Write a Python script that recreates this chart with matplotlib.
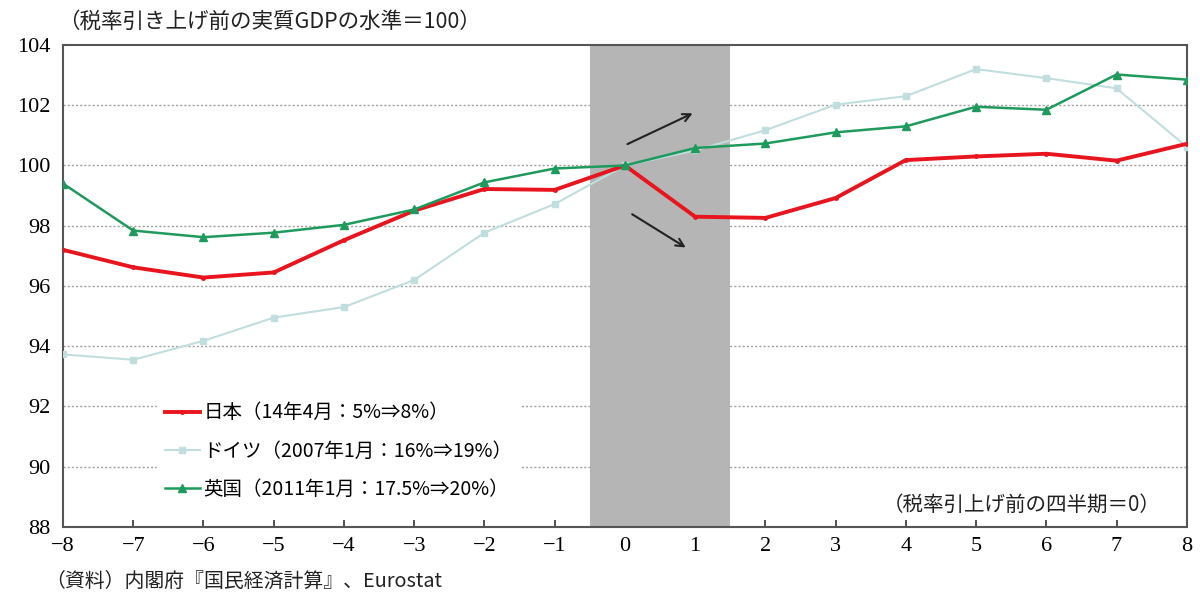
import matplotlib
matplotlib.use("Agg")
import matplotlib.pyplot as plt

plt.rcParams['font.family'] = ['Noto Sans CJK JP', 'DejaVu Sans']

quarters = list(range(-8, 9))
japan = [97.2, 96.62, 96.28, 96.45, 97.52, 98.5, 99.22, 99.19, 100.0,
         98.3, 98.26, 98.92, 100.18, 100.3, 100.39, 100.16, 100.72]
germany = [93.73, 93.55, 94.18, 94.95, 95.3, 96.2, 97.77, 98.72, 100.0,
           100.5, 101.17, 102.02, 102.3, 103.2, 102.9, 102.56, 100.62]
uk = [99.4, 97.84, 97.62, 97.77, 98.03, 98.54, 99.44, 99.9, 100.0,
      100.58, 100.73, 101.1, 101.3, 101.95, 101.85, 103.02, 102.85]

labels = ['日本（14年4月：5%⇒8%）',
          'ドイツ（2007年1月：16%⇒19%）',
          '英国（2011年1月：17.5%⇒20%）']
yticks = [88, 90, 92, 94, 96, 98, 100, 102, 104]
grid_levels = [90, 92, 94, 96, 98, 100, 102]

fig = plt.figure(figsize=(12, 5.99), dpi=100)
ax = fig.add_axes([0.0525, 0.1202, 0.9365, 0.8047])

ax.set_xlim(-8, 8)
ax.set_ylim(88, 104)

for g in grid_levels:
    ax.axhline(g, color='#a0a0a0', lw=1.0, ls=(0, (1.5, 1.5)), zorder=1)

ax.axvspan(-0.5, 1.5, color='#b5b5b5', lw=0, zorder=2)

l_jp, = ax.plot(quarters, japan, color='#e8141e', lw=2.8, marker='o', ms=2.5,
                zorder=5, label=labels[0])
l_de, = ax.plot(quarters, germany, color='#c0dede', lw=1.5, marker='s', ms=5,
                zorder=4, label=labels[1])
l_uk, = ax.plot(quarters, uk, color='#1e9a5c', lw=1.8, marker='^', ms=6,
                zorder=6, label=labels[2])

ax.annotate('', xy=(1.0, 101.77), xytext=(0.0, 100.67),
            arrowprops=dict(arrowstyle='->', color='#222222', lw=1.5,
                            mutation_scale=14), zorder=7)
ax.annotate('', xy=(0.9, 97.23), xytext=(0.07, 98.43),
            arrowprops=dict(arrowstyle='->', color='#222222', lw=1.5,
                            mutation_scale=14), zorder=7)

leg = ax.legend(handles=[l_jp, l_de, l_uk], loc='upper left',
                bbox_to_anchor=(0.075, 0.295), frameon=True, fancybox=False,
                edgecolor='white', facecolor='white', framealpha=1.0,
                fontsize=14, handlelength=1.8, handletextpad=0.2,
                labelspacing=0.88, borderpad=0.4, borderaxespad=0.5)
leg.set_zorder(8)

for s in ax.spines.values():
    s.set_color('#555555')
    s.set_linewidth(1.5)

ax.set_xticks(quarters)
ax.set_xticklabels([str(q).replace('-', '−') for q in quarters],
                   family='Liberation Serif', fontsize=16)
ax.set_yticks(yticks)
ax.set_yticklabels([str(v) for v in yticks], family='Liberation Serif',
                   fontsize=16)
ax.tick_params(axis='x', direction='in', length=5, width=1.2, color='#333333',
               pad=7)
ax.tick_params(axis='y', length=0, pad=9)

fig.text(0.048, 0.963, '（税率引き上げ前の実質GDPの水準＝100）', fontsize=15.5,
         ha='left', va='center', color='#222222')
fig.text(0.038, 0.030, '（資料）内閣府『国民経済計算』、Eurostat', fontsize=14.3,
         ha='left', va='center', color='#222222')
ax.text(0.977, 0.045, '（税率引上げ前の四半期＝0）', transform=ax.transAxes,
        fontsize=14.8, ha='right', va='center', color='#222222', zorder=9)

fig.savefig('out.png', dpi=100)
